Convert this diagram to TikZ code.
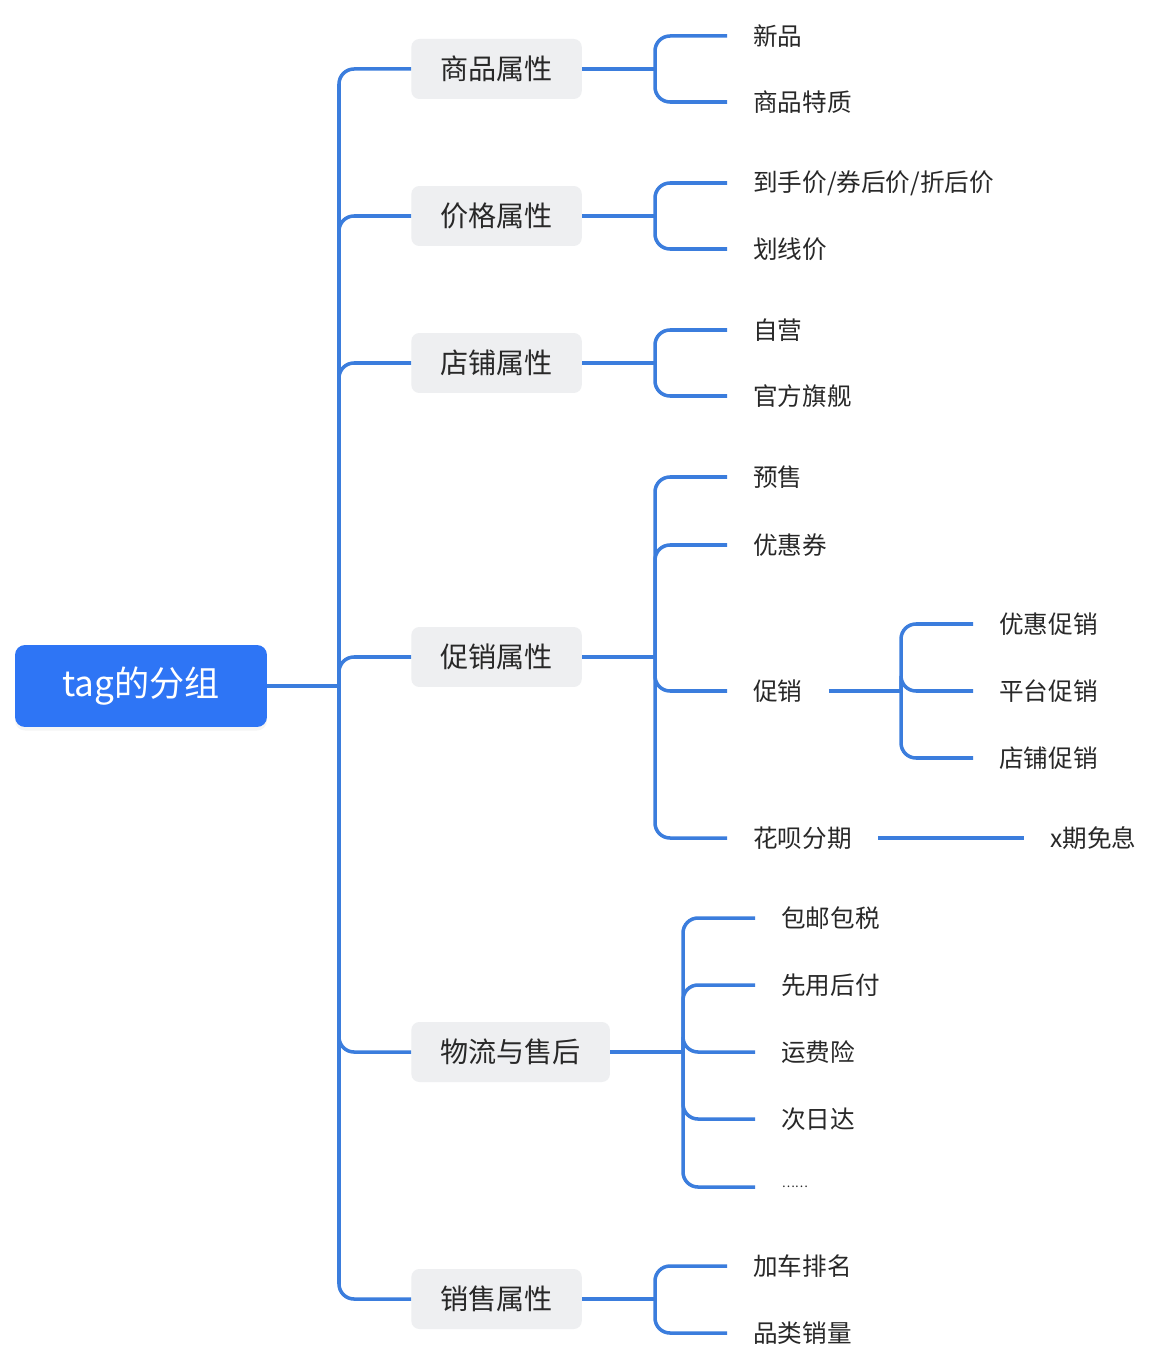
\documentclass[tikz,border=0pt]{standalone}
\usepackage{fontspec}
\setmainfont{Noto Sans CJK SC}
\usetikzlibrary{shadows}
\definecolor{lineblue}{RGB}{59,125,221}
\definecolor{rootblue}{RGB}{46,117,245}
\definecolor{boxgrey}{RGB}{238,239,241}
\definecolor{textgrey}{RGB}{40,40,40}

\begin{document}
\begin{tikzpicture}[x=0.02cm,y=-0.02cm,
  root/.style={fill=rootblue,text=white,rounded corners=0.2cm,font=\fontsize{20}{24}\selectfont,
    minimum width=5.04cm,minimum height=1.64cm,
    drop shadow={opacity=0.08,shadow xshift=0pt,shadow yshift=-2pt}},
  cat/.style={fill=boxgrey,text=textgrey,rounded corners=0.16cm,font=\fontsize{16}{19}\selectfont,
    minimum height=1.2cm,inner xsep=0.58cm,anchor=west},
  leaf/.style={text=textgrey,font=\fontsize{14}{17}\selectfont,inner xsep=0.52cm,anchor=west},
  link/.style={draw=lineblue,line width=2pt,rounded corners=0.3cm},
  stem/.style={draw=lineblue,line width=2.8pt}]
\useasboundingbox[fill=white] (0,0) rectangle (1164,1364);

\node[root] (tag) at (141,686) {tag的分组};
\coordinate (trunk) at (339,686);

\node[cat] (goods) at (411,69) {商品属性};
\node[cat] (price) at (411,216) {价格属性};
\node[cat] (shop) at (411,363) {店铺属性};
\node[cat] (promo) at (411,657) {促销属性};
\node[cat] (logi) at (411,1052) {物流与售后};
\node[cat] (sales) at (411,1299) {销售属性};

\coordinate (goodsfork) at (655,69);
\coordinate (pricefork) at (655,216);
\coordinate (shopfork) at (655,363);
\coordinate (promofork) at (655,657);
\coordinate (logifork) at (683,1052);
\coordinate (salesfork) at (655,1299);
\coordinate (promosfork) at (901,691);

\node[leaf] (new) at (727,36) {新品};
\node[leaf] (trait) at (727,102) {商品特质};
\node[leaf] (paid) at (727,183) {到手价/券后价/折后价};
\node[leaf] (list) at (727,249) {划线价};
\node[leaf] (self) at (727,330) {自营};
\node[leaf] (flag) at (727,396) {官方旗舰};
\node[leaf] (presale) at (727,477) {预售};
\node[leaf] (coupon) at (727,545) {优惠券};
\node[leaf] (promos) at (727,691) {促销};
\node[leaf] (huabei) at (727,838) {花呗分期};
\node[leaf] (disc) at (973,624) {优惠促销};
\node[leaf] (plat) at (973,691) {平台促销};
\node[leaf] (store) at (973,758) {店铺促销};
\node[leaf] (free) at (1024,838) {x期免息};
\node[leaf] (ship) at (755,918) {包邮包税};
\node[leaf] (later) at (755,985) {先用后付};
\node[leaf] (insur) at (755,1052) {运费险};
\node[leaf] (nextday) at (755,1119) {次日达};
\node[leaf,font=\fontsize{7}{8}\selectfont,inner xsep=0.53cm] (more) at (755,1187) {……};
\node[leaf] (cart) at (727,1266) {加车排名};
\node[leaf] (volume) at (727,1333) {品类销量};

\draw[link] (tag.east) -- (trunk);
\draw[link] (trunk) |- (goods.west);
\draw[link] (trunk) |- (price.west);
\draw[link] (trunk) |- (shop.west);
\draw[link] (trunk) |- (promo.west);
\draw[link] (trunk) |- (logi.west);
\draw[link] (trunk) |- (sales.west);

\draw[stem] (goods.east) -- (goodsfork);
\draw[link] (goodsfork) |- (new.west);
\draw[link] (goodsfork) |- (trait.west);

\draw[stem] (price.east) -- (pricefork);
\draw[link] (pricefork) |- (paid.west);
\draw[link] (pricefork) |- (list.west);

\draw[stem] (shop.east) -- (shopfork);
\draw[link] (shopfork) |- (self.west);
\draw[link] (shopfork) |- (flag.west);

\draw[stem] (promo.east) -- (promofork);
\draw[link] (promofork) |- (presale.west);
\draw[link] (promofork) |- (coupon.west);
\draw[link] (promofork) |- (promos.west);
\draw[link] (promofork) |- (huabei.west);
\draw[stem] (promos.east) -- (promosfork);
\draw[link] (promosfork) |- (disc.west);
\draw[link] (promosfork) |- (plat.west);
\draw[link] (promosfork) |- (store.west);
\draw[link] (huabei.east) -- (free.west);

\draw[stem] (logi.east) -- (logifork);
\draw[link] (logifork) |- (ship.west);
\draw[link] (logifork) |- (later.west);
\draw[link] (logifork) |- (insur.west);
\draw[link] (logifork) |- (nextday.west);
\draw[link] (logifork) |- (more.west);

\draw[stem] (sales.east) -- (salesfork);
\draw[link] (salesfork) |- (cart.west);
\draw[link] (salesfork) |- (volume.west);
\end{tikzpicture}
\end{document}
